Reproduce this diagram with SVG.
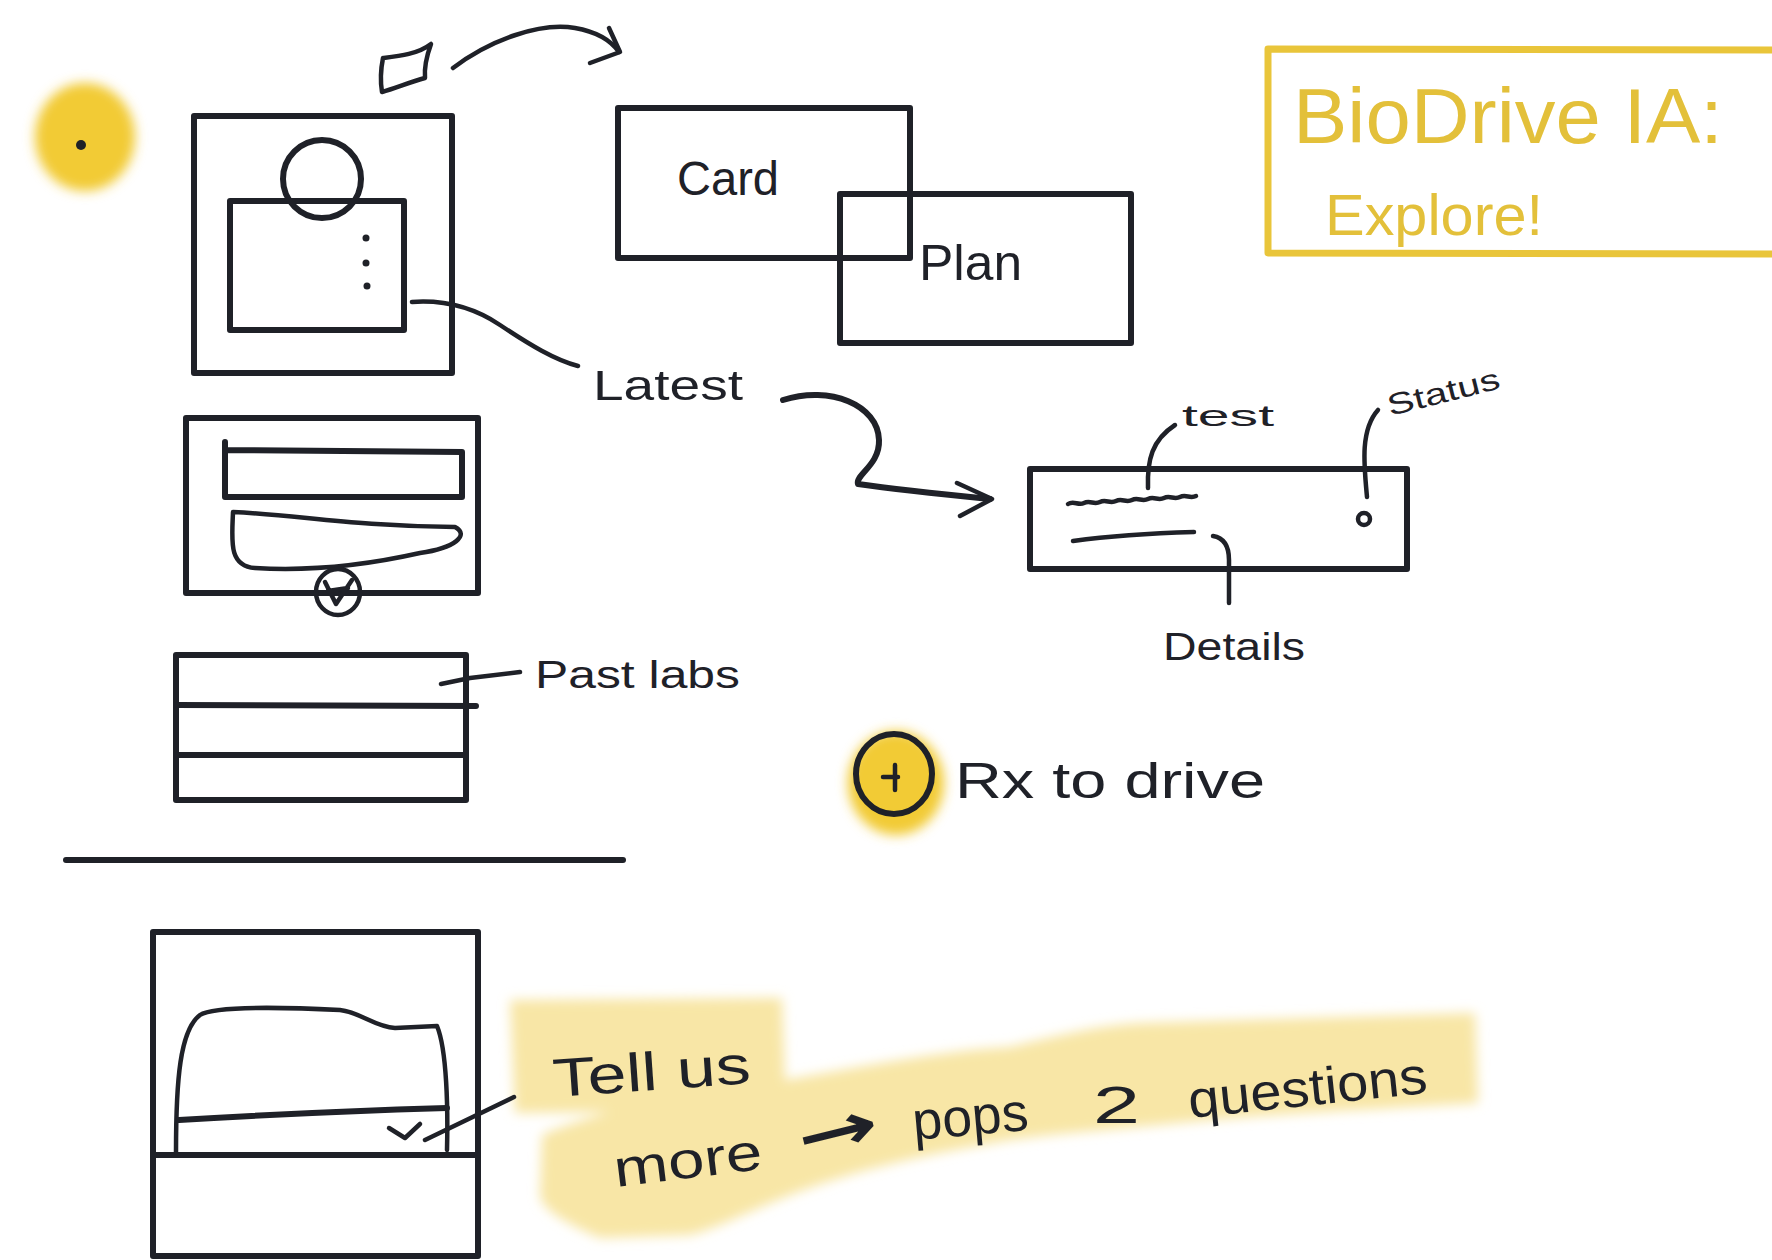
<svg xmlns="http://www.w3.org/2000/svg" width="1772" height="1260" viewBox="0 0 1772 1260">
<defs>
<style>
.ink{fill:none;stroke:#1f2128;stroke-width:6;stroke-linecap:round;stroke-linejoin:round}
.thin{stroke-width:4.5}
.hand{font-family:"Liberation Sans","DejaVu Sans",sans-serif;fill:#1f2128}
.arrowglyph{font-family:"DejaVu Sans",sans-serif;font-weight:bold;fill:#1f2128}
.gold{font-family:"Liberation Sans","DejaVu Sans",sans-serif;fill:#E3C03A}
.goldline{fill:none;stroke:#E9C53A;stroke-width:7;stroke-linejoin:round}
.blob{fill:#F2CB36}
.band{fill:#F8E6A6}
</style>
<filter id="soft" x="-20%" y="-20%" width="140%" height="140%"><feGaussianBlur stdDeviation="6"/></filter>
</defs>
<rect width="1772" height="1260" fill="#ffffff"/>

<g id="highlights" filter="url(#soft)">
  <ellipse class="blob" cx="85" cy="137" rx="50" ry="54"/>
  <ellipse class="blob" cx="896" cy="783" rx="48" ry="52"/>
  <path class="band" d="M510,1000 L782,998 L786,1110 L515,1113 Z"/>
  <path class="band" d="M542,1135 C600,1110 700,1088 785,1080 C870,1065 950,1050 1010,1047 C1060,1035 1100,1025 1143,1023 L1475,1013 L1478,1103 C1400,1108 1300,1112 1209,1120 C1130,1128 1060,1133 1010,1140 C920,1155 860,1170 812,1187 C760,1205 720,1228 690,1235 L600,1238 C570,1225 545,1212 540,1197 Z"/>
</g>

<g id="dot-marker">
  <circle cx="81" cy="145" r="5" fill="#1f2128"/>
</g>

<g id="title">
  <path class="goldline" d="M1790,50 L1268,49 L1268,253 L1790,254"/>
  <text class="gold" x="1293" y="143" font-size="78" textLength="430" lengthAdjust="spacingAndGlyphs">BioDrive IA:</text>
  <text class="gold" x="1325" y="235" font-size="58" textLength="218" lengthAdjust="spacingAndGlyphs">Explore!</text>
</g>

<g id="small-card">
  <path class="ink thin" d="M383,58 C400,56 418,54 431,44 C427,55 424,66 425,78 C410,82 396,88 382,92 C380,80 381,68 383,58 Z"/>
</g>

<g id="home-screen">
  <rect class="ink" x="194" y="116" width="258" height="257"/>
  <rect class="ink" x="230" y="201" width="174" height="129"/>
  <ellipse class="ink" cx="322" cy="179" rx="39" ry="39"/>
  <circle cx="366" cy="238" r="3.5" fill="#1f2128"/>
  <circle cx="366" cy="263" r="3.5" fill="#1f2128"/>
  <circle cx="367" cy="286" r="3.5" fill="#1f2128"/>
</g>

<g id="card">
  <rect class="ink" x="618" y="108" width="292" height="150"/>
  <text class="hand" x="677" y="195" font-size="48" textLength="102" lengthAdjust="spacingAndGlyphs">Card</text>
</g>

<g id="plan">
  <rect class="ink" x="840" y="194" width="291" height="149"/>
  <text class="hand" x="919" y="280" font-size="50" textLength="103" lengthAdjust="spacingAndGlyphs">Plan</text>
</g>

<g id="latest-label">
  <text class="hand" x="593" y="400" font-size="42" textLength="150" lengthAdjust="spacingAndGlyphs">Latest</text>
</g>

<g id="detail-card">
  <rect class="ink" x="1030" y="469" width="377" height="100"/>
  <path class="ink thin" d="M1068,504 c6,-4 10,2 16,-1 s10,2 16,-1 s10,2 16,-1 s10,2 16,-1 s10,2 16,-1 s10,2 16,-1 s10,2 16,-1 s10,2 16,-1"/>
  <path class="ink thin" d="M1073,541 C1110,536 1160,533 1194,532"/>
  <circle class="ink thin" cx="1364" cy="519" r="6"/>
  <text class="hand" x="1182" y="426" font-size="30" textLength="92" lengthAdjust="spacingAndGlyphs">test</text>
  <text class="hand" x="1390" y="416" font-size="30" textLength="115" lengthAdjust="spacingAndGlyphs" transform="rotate(-14 1390 416)">Status</text>
  <text class="hand" x="1163" y="660" font-size="38" textLength="142" lengthAdjust="spacingAndGlyphs">Details</text>
</g>

<g id="lab-entry">
  <rect class="ink" x="186" y="418" width="292" height="175"/>
  <path class="ink" d="M225,442 L225,497 L462,497 L462,452 L225,450"/>
  <path class="ink thin" d="M233,512 C300,515 350,526 455,527 C470,535 455,548 420,553 C380,562 320,572 255,568 C228,566 232,540 233,512"/>
  <ellipse class="ink thin" cx="338" cy="592" rx="22" ry="23" fill="#fff"/>
  <path class="ink thin" d="M325,582 L336,604 L352,580 M328,591 L348,588"/>
</g>

<g id="past-labs">
  <rect class="ink" x="176" y="655" width="290" height="145"/>
  <path class="ink" d="M176,705 L476,706 M176,755 L466,755"/>
  <text class="hand" x="535" y="688" font-size="38" textLength="205" lengthAdjust="spacingAndGlyphs">Past labs</text>
</g>

<g id="divider">
  <path class="ink" stroke-width="8" d="M66,860 L623,860"/>
</g>

<g id="rx-drive">
  <ellipse class="ink" cx="894" cy="774" rx="38" ry="40"/>
  <path class="ink thin" d="M895,765 L895,790 M883,777 L898,777"/>
  <text class="hand" x="955" y="798" font-size="50" textLength="310" lengthAdjust="spacingAndGlyphs">Rx to drive</text>
</g>

<g id="tell-us-screen">
  <rect class="ink" x="153" y="932" width="325" height="324"/>
  <path class="ink" d="M153,1155 L478,1155"/>
  <path class="ink thin" d="M176,1152 C176,1080 180,1030 200,1015 C215,1005 300,1008 340,1010 C360,1012 375,1027 395,1028 L437,1026 C447,1050 448,1110 447,1150"/>
  <path class="ink" d="M179,1120 C260,1115 380,1110 447,1108"/>
  <path class="ink thin" d="M389,1128 L405,1138 L420,1124"/>
  <text class="hand" x="554" y="1097" font-size="54" textLength="198" lengthAdjust="spacingAndGlyphs" transform="rotate(-4 554 1097)">Tell us</text>
  <text class="hand" x="616" y="1187" font-size="52" textLength="149" lengthAdjust="spacingAndGlyphs" transform="rotate(-7 616 1187)">more</text>
  <text class="arrowglyph" x="803" y="1162" font-size="64" textLength="82" lengthAdjust="spacingAndGlyphs" transform="rotate(-14 803 1162)">→</text>
  <text class="hand" x="914" y="1140" font-size="54" textLength="116" lengthAdjust="spacingAndGlyphs" transform="rotate(-5 914 1140)">pops</text>
  <text class="hand" x="1093" y="1123" font-size="52" textLength="47" lengthAdjust="spacingAndGlyphs">2</text>
  <text class="hand" x="1190" y="1118" font-size="52" textLength="240" lengthAdjust="spacingAndGlyphs" transform="rotate(-6 1190 1118)">questions</text>
</g>

<g id="connectors">
  <path class="ink thin" d="M453,68 C490,40 540,22 575,28 C598,32 612,42 619,52"/>
  <path class="ink thin" d="M609,28 L620,52 L590,63"/>
  <path class="ink thin" d="M412,302 C440,300 470,305 500,325 C530,345 555,360 578,366"/>
  <path class="ink" d="M783,400 C830,385 878,405 879,440 C880,465 855,475 858,484 C900,490 950,495 990,499"/>
  <path class="ink thin" d="M957,483 L992,499 L960,516"/>
  <path class="ink thin" d="M1148,488 C1147,460 1152,440 1175,425"/>
  <path class="ink thin" d="M1367,497 C1364,465 1360,430 1378,410"/>
  <path class="ink thin" d="M1213,536 C1225,538 1229,548 1229,560 L1229,603"/>
  <path class="ink thin" d="M441,684 L470,678 L520,672"/>
  <path class="ink thin" d="M425,1140 L514,1097"/>
</g>
</svg>
